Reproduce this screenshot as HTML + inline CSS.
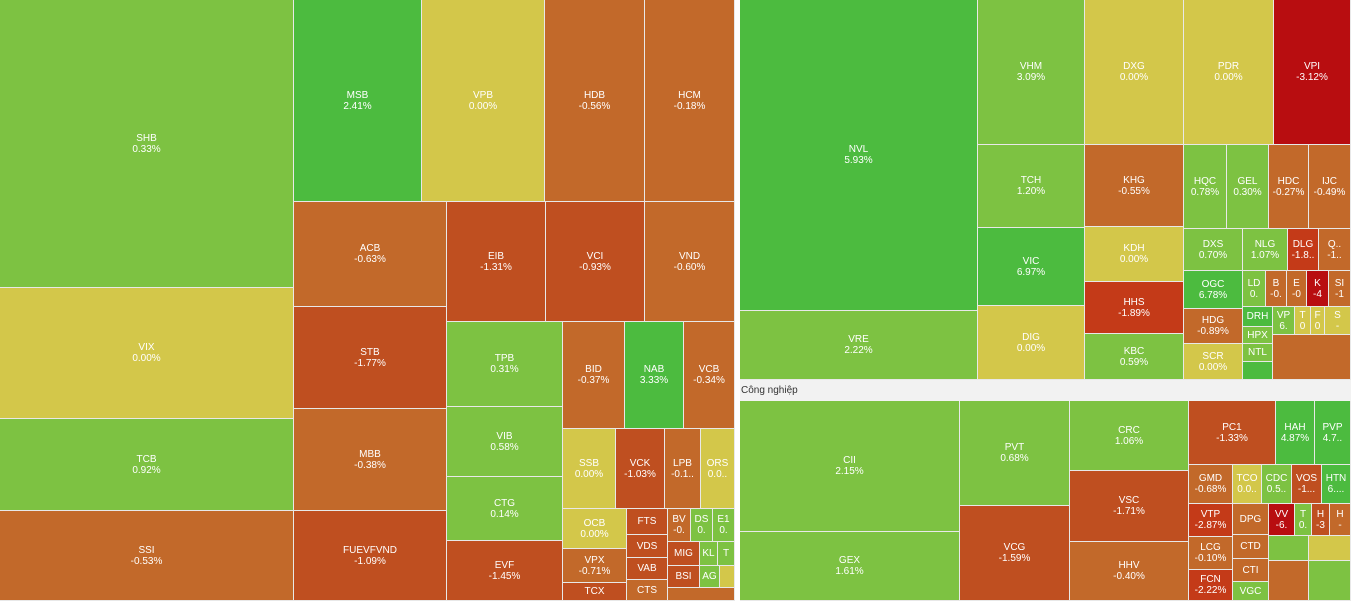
<!DOCTYPE html>
<html><head><meta charset="utf-8"><style>
body{margin:0;width:1351px;height:601px;position:relative;overflow:hidden;background:#fff;font-family:"Liberation Sans",sans-serif}
.b{position:absolute;box-sizing:border-box;border-right:1px solid #e8e8e8;border-bottom:1px solid #e8e8e8;display:flex;flex-direction:column;align-items:center;justify-content:center;color:#fff;font-size:10px;line-height:11px;text-align:center;overflow:hidden;white-space:nowrap}
.G{background:#4cbb3f}.L{background:#7dc242}.Y{background:#d3c74a}.O{background:#c2692a}.D{background:#bf4f20}.R{background:#b80d10}.M{background:#c43a18}
</style></head><body>
<div class="b L" style="left:0;top:0;width:294px;height:288px">SHB<br>0.33%</div>
<div class="b Y" style="left:0;top:288px;width:294px;height:131px">VIX<br>0.00%</div>
<div class="b L" style="left:0;top:419px;width:294px;height:92px">TCB<br>0.92%</div>
<div class="b O" style="left:0;top:511px;width:294px;height:90px">SSI<br>-0.53%</div>
<div class="b G" style="left:294px;top:0;width:128px;height:202px">MSB<br>2.41%</div>
<div class="b Y" style="left:422px;top:0;width:123px;height:202px">VPB<br>0.00%</div>
<div class="b O" style="left:545px;top:0;width:100px;height:202px">HDB<br>-0.56%</div>
<div class="b O" style="left:645px;top:0;width:90px;height:202px">HCM<br>-0.18%</div>
<div class="b O" style="left:294px;top:202px;width:153px;height:105px">ACB<br>-0.63%</div>
<div class="b D" style="left:294px;top:307px;width:153px;height:102px">STB<br>-1.77%</div>
<div class="b O" style="left:294px;top:409px;width:153px;height:102px">MBB<br>-0.38%</div>
<div class="b D" style="left:294px;top:511px;width:153px;height:90px">FUEVFVND<br>-1.09%</div>
<div class="b D" style="left:447px;top:202px;width:99px;height:120px">EIB<br>-1.31%</div>
<div class="b D" style="left:546px;top:202px;width:99px;height:120px">VCI<br>-0.93%</div>
<div class="b O" style="left:645px;top:202px;width:90px;height:120px">VND<br>-0.60%</div>
<div class="b L" style="left:447px;top:322px;width:116px;height:85px">TPB<br>0.31%</div>
<div class="b L" style="left:447px;top:407px;width:116px;height:70px">VIB<br>0.58%</div>
<div class="b L" style="left:447px;top:477px;width:116px;height:64px">CTG<br>0.14%</div>
<div class="b D" style="left:447px;top:541px;width:116px;height:60px">EVF<br>-1.45%</div>
<div class="b O" style="left:563px;top:322px;width:62px;height:107px">BID<br>-0.37%</div>
<div class="b G" style="left:625px;top:322px;width:59px;height:107px">NAB<br>3.33%</div>
<div class="b O" style="left:684px;top:322px;width:51px;height:107px">VCB<br>-0.34%</div>
<div class="b Y" style="left:563px;top:429px;width:53px;height:80px">SSB<br>0.00%</div>
<div class="b D" style="left:616px;top:429px;width:49px;height:80px">VCK<br>-1.03%</div>
<div class="b O" style="left:665px;top:429px;width:36px;height:80px">LPB<br>-0.1..</div>
<div class="b Y" style="left:701px;top:429px;width:34px;height:80px">ORS<br>0.0..</div>
<div class="b Y" style="left:563px;top:509px;width:64px;height:40px">OCB<br>0.00%</div>
<div class="b O" style="left:563px;top:549px;width:64px;height:34px">VPX<br>-0.71%</div>
<div class="b D" style="left:563px;top:583px;width:64px;height:18px">TCX</div>
<div class="b D" style="left:627px;top:509px;width:41px;height:26px">FTS</div>
<div class="b D" style="left:627px;top:535px;width:41px;height:23px">VDS</div>
<div class="b D" style="left:627px;top:558px;width:41px;height:22px">VAB</div>
<div class="b O" style="left:627px;top:580px;width:41px;height:21px">CTS</div>
<div class="b O" style="left:668px;top:509px;width:23px;height:33px">BV<br>-0.</div>
<div class="b L" style="left:691px;top:509px;width:22px;height:33px">DS<br>0.</div>
<div class="b L" style="left:713px;top:509px;width:22px;height:33px">E1<br>0.</div>
<div class="b D" style="left:668px;top:542px;width:32px;height:24px">MIG</div>
<div class="b L" style="left:700px;top:542px;width:18px;height:24px">KL</div>
<div class="b L" style="left:718px;top:542px;width:17px;height:24px">T</div>
<div class="b D" style="left:668px;top:566px;width:32px;height:22px">BSI</div>
<div class="b L" style="left:700px;top:566px;width:20px;height:22px">AG</div>
<div class="b Y" style="left:720px;top:566px;width:15px;height:22px"></div>
<div class="b O" style="left:668px;top:588px;width:67px;height:13px"></div>
<div style="position:absolute;left:735px;top:0;width:5px;height:601px;background:#fff"></div>
<div class="b G" style="left:740px;top:0;width:238px;height:311px">NVL<br>5.93%</div>
<div class="b L" style="left:740px;top:311px;width:238px;height:69px">VRE<br>2.22%</div>
<div class="b L" style="left:978px;top:0;width:107px;height:145px">VHM<br>3.09%</div>
<div class="b L" style="left:978px;top:145px;width:107px;height:83px">TCH<br>1.20%</div>
<div class="b G" style="left:978px;top:228px;width:107px;height:78px">VIC<br>6.97%</div>
<div class="b Y" style="left:978px;top:306px;width:107px;height:74px">DIG<br>0.00%</div>
<div class="b Y" style="left:1085px;top:0;width:99px;height:145px">DXG<br>0.00%</div>
<div class="b Y" style="left:1184px;top:0;width:90px;height:145px">PDR<br>0.00%</div>
<div class="b R" style="left:1274px;top:0;width:77px;height:145px">VPI<br>-3.12%</div>
<div class="b O" style="left:1085px;top:145px;width:99px;height:82px">KHG<br>-0.55%</div>
<div class="b Y" style="left:1085px;top:227px;width:99px;height:55px">KDH<br>0.00%</div>
<div class="b M" style="left:1085px;top:282px;width:99px;height:52px">HHS<br>-1.89%</div>
<div class="b L" style="left:1085px;top:334px;width:99px;height:46px">KBC<br>0.59%</div>
<div class="b L" style="left:1184px;top:145px;width:43px;height:84px">HQC<br>0.78%</div>
<div class="b L" style="left:1227px;top:145px;width:42px;height:84px">GEL<br>0.30%</div>
<div class="b O" style="left:1269px;top:145px;width:40px;height:84px">HDC<br>-0.27%</div>
<div class="b O" style="left:1309px;top:145px;width:42px;height:84px">IJC<br>-0.49%</div>
<div class="b L" style="left:1184px;top:229px;width:59px;height:42px">DXS<br>0.70%</div>
<div class="b L" style="left:1243px;top:229px;width:45px;height:42px">NLG<br>1.07%</div>
<div class="b M" style="left:1288px;top:229px;width:31px;height:42px">DLG<br>-1.8..</div>
<div class="b O" style="left:1319px;top:229px;width:32px;height:42px">Q..<br>-1..</div>
<div class="b G" style="left:1184px;top:271px;width:59px;height:38px">OGC<br>6.78%</div>
<div class="b O" style="left:1184px;top:309px;width:59px;height:35px">HDG<br>-0.89%</div>
<div class="b Y" style="left:1184px;top:344px;width:59px;height:36px">SCR<br>0.00%</div>
<div class="b L" style="left:1243px;top:271px;width:23px;height:36px">LD<br>0.</div>
<div class="b O" style="left:1266px;top:271px;width:21px;height:36px">B<br>-0.</div>
<div class="b O" style="left:1287px;top:271px;width:20px;height:36px">E<br>-0</div>
<div class="b R" style="left:1307px;top:271px;width:22px;height:36px">K<br>-4</div>
<div class="b O" style="left:1329px;top:271px;width:22px;height:36px">SI<br>-1</div>
<div class="b G" style="left:1243px;top:307px;width:30px;height:20px">DRH</div>
<div class="b L" style="left:1243px;top:327px;width:30px;height:17px">HPX</div>
<div class="b L" style="left:1243px;top:344px;width:30px;height:18px">NTL</div>
<div class="b G" style="left:1243px;top:362px;width:30px;height:18px"></div>
<div class="b L" style="left:1273px;top:307px;width:22px;height:28px">VP<br>6.</div>
<div class="b Y" style="left:1295px;top:307px;width:16px;height:28px">T<br>0</div>
<div class="b Y" style="left:1311px;top:307px;width:14px;height:28px">F<br>0</div>
<div class="b Y" style="left:1325px;top:307px;width:26px;height:28px">S<br>-</div>
<div class="b O" style="left:1273px;top:335px;width:78px;height:45px"></div>
<div style="position:absolute;left:740px;top:380px;width:611px;height:21px;background:#f2f2f2;font-size:10px;line-height:21px;color:#333;padding-left:1px">Công nghiệp</div>
<div class="b L" style="left:740px;top:401px;width:220px;height:131px">CII<br>2.15%</div>
<div class="b L" style="left:740px;top:532px;width:220px;height:69px">GEX<br>1.61%</div>
<div class="b L" style="left:960px;top:401px;width:110px;height:105px">PVT<br>0.68%</div>
<div class="b D" style="left:960px;top:506px;width:110px;height:95px">VCG<br>-1.59%</div>
<div class="b L" style="left:1070px;top:401px;width:119px;height:70px">CRC<br>1.06%</div>
<div class="b D" style="left:1070px;top:471px;width:119px;height:71px">VSC<br>-1.71%</div>
<div class="b O" style="left:1070px;top:542px;width:119px;height:59px">HHV<br>-0.40%</div>
<div class="b D" style="left:1189px;top:401px;width:87px;height:64px">PC1<br>-1.33%</div>
<div class="b G" style="left:1276px;top:401px;width:39px;height:64px">HAH<br>4.87%</div>
<div class="b G" style="left:1315px;top:401px;width:36px;height:64px">PVP<br>4.7..</div>
<div class="b O" style="left:1189px;top:465px;width:44px;height:39px">GMD<br>-0.68%</div>
<div class="b Y" style="left:1233px;top:465px;width:29px;height:39px">TCO<br>0.0..</div>
<div class="b L" style="left:1262px;top:465px;width:30px;height:39px">CDC<br>0.5..</div>
<div class="b D" style="left:1292px;top:465px;width:30px;height:39px">VOS<br>-1...</div>
<div class="b G" style="left:1322px;top:465px;width:29px;height:39px">HTN<br>6....</div>
<div class="b M" style="left:1189px;top:504px;width:44px;height:33px">VTP<br>-2.87%</div>
<div class="b O" style="left:1189px;top:537px;width:44px;height:33px">LCG<br>-0.10%</div>
<div class="b M" style="left:1189px;top:570px;width:44px;height:31px">FCN<br>-2.22%</div>
<div class="b O" style="left:1233px;top:504px;width:36px;height:31px">DPG</div>
<div class="b O" style="left:1233px;top:535px;width:36px;height:24px">CTD</div>
<div class="b O" style="left:1233px;top:559px;width:36px;height:23px">CTI</div>
<div class="b L" style="left:1233px;top:582px;width:36px;height:19px">VGC</div>
<div class="b R" style="left:1269px;top:504px;width:26px;height:32px">VV<br>-6.</div>
<div class="b L" style="left:1295px;top:504px;width:17px;height:32px">T<br>0.</div>
<div class="b D" style="left:1312px;top:504px;width:18px;height:32px">H<br>-3</div>
<div class="b O" style="left:1330px;top:504px;width:21px;height:32px">H<br>-</div>
<div class="b L" style="left:1269px;top:536px;width:40px;height:25px"></div>
<div class="b Y" style="left:1309px;top:536px;width:42px;height:25px"></div>
<div class="b O" style="left:1269px;top:561px;width:40px;height:40px"></div>
<div class="b L" style="left:1309px;top:561px;width:42px;height:40px"></div>
</body></html>
